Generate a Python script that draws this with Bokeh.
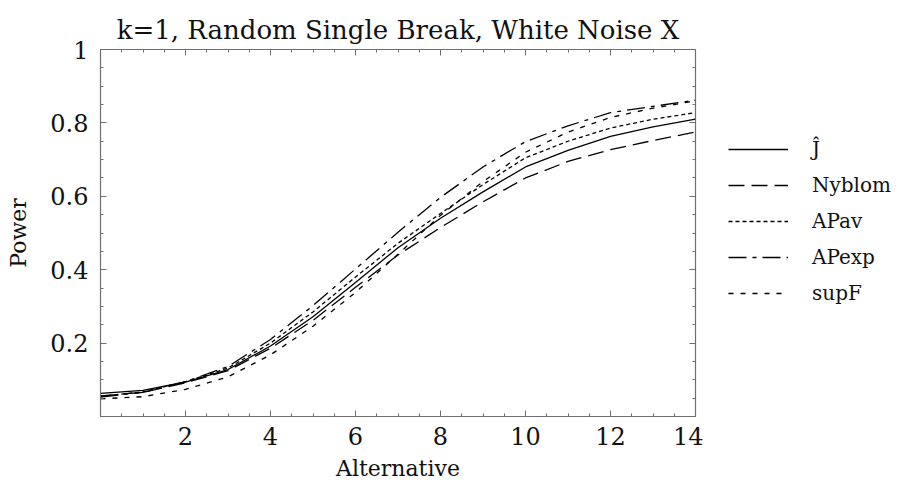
from bokeh.plotting import figure
from bokeh.layouts import row
from bokeh.models import Legend, LegendItem, LinearAxis, FixedTicker, Range1d
from bokeh.embed import file_html
from bokeh.resources import INLINE

# Power curves against the size of the alternative
alternative = [0, 1, 2, 3, 4, 5, 6, 7, 8, 9, 10, 11, 12, 13, 14]
power_j = [0.063, 0.071, 0.094, 0.128, 0.192, 0.272, 0.365, 0.46, 0.54, 0.612, 0.68, 0.725, 0.763, 0.789, 0.81]
power_nyblom = [0.056, 0.066, 0.092, 0.125, 0.186, 0.262, 0.352, 0.44, 0.515, 0.585, 0.65, 0.695, 0.727, 0.752, 0.775]
power_apav = [0.055, 0.067, 0.095, 0.132, 0.2, 0.285, 0.38, 0.472, 0.553, 0.632, 0.705, 0.75, 0.786, 0.81, 0.828]
power_apexp = [0.053, 0.066, 0.095, 0.136, 0.21, 0.302, 0.402, 0.502, 0.597, 0.68, 0.749, 0.792, 0.828, 0.845, 0.862]
power_supf = [0.048, 0.054, 0.074, 0.108, 0.168, 0.246, 0.338, 0.442, 0.548, 0.64, 0.72, 0.775, 0.815, 0.84, 0.86]

series_names = ["Ĵ", "Nyblom", "APav", "APexp", "supF"]
x_ticks = [2, 4, 6, 8, 10, 12, 14]
y_ticks = [0.2, 0.4, 0.6, 0.8, 1.0]

FONT = "DejaVu Serif"
AXIS_GRAY = "#6e6e6e"

p = figure(
    width=703, height=493,
    x_range=Range1d(0, 14), y_range=Range1d(0, 1),
    output_backend="svg", toolbar_location=None,
    min_border_left=100, min_border_right=8,
    min_border_top=49, min_border_bottom=77,
    title="k=1, Random Single Break, White Noise X",
)
p.title.text_font = FONT
p.title.text_font_size = "26px"
p.title.text_font_style = "normal"
p.title.align = "center"
p.title.text_color = "#111111"

p.xgrid.visible = False
p.ygrid.visible = False
p.outline_line_color = AXIS_GRAY
p.outline_line_width = 1.2
p.background_fill_color = "white"
p.border_fill_color = "white"

x_minor = [v * 0.5 for v in range(0, 29)]
y_minor = [v * 0.05 for v in range(0, 21)]

def style_axis(ax, show_labels=True):
    ax.axis_line_color = AXIS_GRAY
    ax.major_tick_line_color = AXIS_GRAY
    ax.minor_tick_line_color = AXIS_GRAY
    ax.major_tick_in = 6
    ax.major_tick_out = 0
    ax.minor_tick_in = 3
    ax.minor_tick_out = 0
    ax.major_label_text_font = FONT
    ax.major_label_text_font_size = "24px" if show_labels else "0px"
    ax.major_label_text_color = "#111111" if show_labels else None
    ax.axis_label_text_font = FONT
    ax.axis_label_text_font_size = "22px"
    ax.axis_label_text_font_style = "normal"
    ax.axis_label_text_color = "#111111"

p.xaxis.ticker = FixedTicker(ticks=x_ticks, minor_ticks=x_minor)
p.yaxis.ticker = FixedTicker(ticks=y_ticks, minor_ticks=y_minor)
p.xaxis.axis_label = "Alternative"
p.yaxis.axis_label = "Power"
p.yaxis.major_label_overrides = {1: "1"}
style_axis(p.xaxis[0])
style_axis(p.yaxis[0])
p.xaxis.major_label_standoff = 10
p.xaxis.axis_label_standoff = 8
p.yaxis.major_label_standoff = 12
p.yaxis.axis_label_standoff = 16

# mirrored tick marks on the top and right edges of the frame
top_axis = LinearAxis(ticker=FixedTicker(ticks=x_ticks, minor_ticks=x_minor))
style_axis(top_axis, show_labels=False)
top_axis.major_label_standoff = 0
right_axis = LinearAxis(ticker=FixedTicker(ticks=y_ticks, minor_ticks=y_minor))
style_axis(right_axis, show_labels=False)
right_axis.major_label_standoff = 0
p.add_layout(top_axis, "above")
p.add_layout(right_axis, "right")

styles = [
    (power_j, None),
    (power_nyblom, "16 7"),
    (power_apav, "4 3"),
    (power_apexp, "18 6 4 6"),
    (power_supf, "5 7"),
]

# key panel to the right of the chart
key = figure(
    width=195, height=493,
    x_range=Range1d(0, 1), y_range=Range1d(0, 1),
    output_backend="svg", toolbar_location=None,
    x_axis_location=None, y_axis_location=None,
    min_border=0,
)
key.xgrid.visible = False
key.ygrid.visible = False
key.outline_line_color = None
key.background_fill_color = "white"
key.border_fill_color = "white"

nan = float("nan")
items = []
for name, (vals, dash) in zip(series_names, styles):
    kw = dict(line_color="black", line_width=1.3)
    if dash is not None:
        kw["line_dash"] = dash
    p.line(alternative, vals, **kw)
    # swatch renderer: a single undrawn point, used only by the key
    swatch = key.line([nan], [nan], **kw)
    items.append(LegendItem(label=name, renderers=[swatch]))

legend = Legend(
    items=items,
    location=(25, 105),
    orientation="vertical",
    glyph_width=60, glyph_height=36, label_height=36,
    spacing=0, padding=0, margin=0, label_standoff=24,
    border_line_color=None, background_fill_alpha=0,
    label_text_font=FONT, label_text_font_size="20px",
    label_text_color="#111111",
)
key.add_layout(legend)

layout = row(p, key)
open("out.html", "w").write(file_html(layout, INLINE))
